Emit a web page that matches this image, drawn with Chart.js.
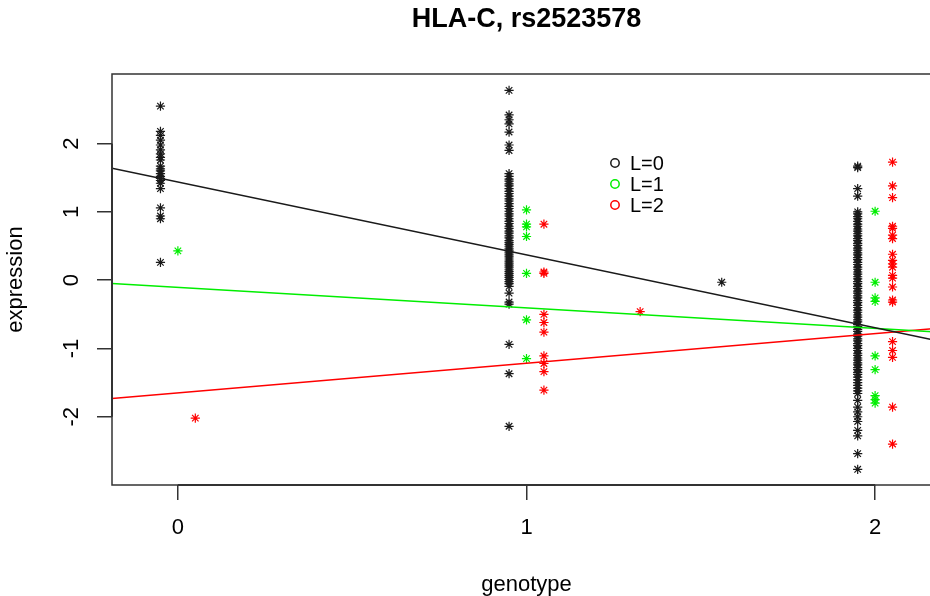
<!DOCTYPE html>
<html>
<head>
<meta charset="utf-8">
<script src="https://cdn.jsdelivr.net/npm/chart.js@4/dist/chart.umd.min.js"></script>
<style>
  html, body { margin: 0; padding: 0; background: #fff; overflow: hidden; }
  #chart { display: block; }
</style>
</head>
<body>
<canvas id="chart" width="960" height="596"></canvas>
<script>
// axis ranges and ticks
const xLimits = [-0.189, 2.189];
const yLimits = [-3.0, 3.02];
const genotypeTicks = [0, 1, 2];
const expressionTicks = [-2, -1, 0, 1, 2];

// groups
const groupLabels = ['L=0', 'L=1', 'L=2'];
const groupShift = [-0.05, 0, 0.05];   // jitter of each group around the genotype

// L=0 expression values at genotype 0, 1, 2
const l0AtG0 = [2.55, 2.18, 2.12, 2.05, 1.98, 1.91, 1.85, 1.80, 1.76, 1.67, 1.63, 1.60, 1.56, 1.52,
  1.49, 1.46, 1.42, 1.34, 1.06, 0.94, 0.90, 0.26];
const l0AtG1 = [2.78, 2.42, 2.35, 2.29, 2.17, 1.98, 1.90,
  1.56, 1.52, 1.48, 1.45, 1.41, 1.38, 1.34, 1.30, 1.27, 1.23, 1.19, 1.16, 1.12, 1.08, 1.05, 1.01,
  0.97, 0.94, 0.90, 0.86, 0.83, 0.79, 0.76, 0.72, 0.69, 0.65, 0.62, 0.58, 0.55, 0.52, 0.49, 0.46,
  0.43, 0.40, 0.37, 0.34, 0.31, 0.28, 0.25, 0.22, 0.19, 0.16, 0.13, 0.10, 0.07, 0.04, 0.01, -0.02,
  -0.05, -0.09, -0.19, -0.32, -0.35, -0.94, -1.37, -2.14];
const l0AtG2 = [1.67, 1.65, 1.34, 1.23,
  1.00, 0.97, 0.93, 0.90, 0.86, 0.82, 0.79, 0.75, 0.72, 0.68, 0.65, 0.61, 0.58, 0.54, 0.51, 0.47,
  0.44, 0.40, 0.37, 0.33, 0.30, 0.26, 0.23, 0.19, 0.16, 0.12, 0.09, 0.05, 0.02, -0.02, -0.05, -0.09,
  -0.12, -0.16, -0.19, -0.23, -0.26, -0.30, -0.33, -0.37, -0.40, -0.44, -0.47, -0.51, -0.54, -0.58,
  -0.61, -0.65, -0.68, -0.72, -0.75, -0.79, -0.82, -0.86, -0.89, -0.93, -0.96, -1.00, -1.03, -1.07,
  -1.10, -1.14, -1.17, -1.21, -1.24, -1.28, -1.31, -1.35, -1.38, -1.42, -1.46, -1.50, -1.54, -1.58,
  -1.62, -1.66,
  -1.76, -1.86, -1.93, -2.00, -2.07, -2.20, -2.28, -2.54, -2.77];
const l0Extra = [{ x: 1.56, y: -0.03 }];

// L=1
const l1AtG0 = [0.43];
const l1AtG1 = [1.03, 0.82, 0.78, 0.64, 0.10, -0.58, -1.15];
const l1AtG2 = [1.01, -0.03, -0.26, -0.31, -1.11, -1.31, -1.69, -1.75, -1.80];
const l1Extra = [];

// L=2
const l2AtG0 = [-2.02];
const l2AtG1 = [0.82, 0.12, 0.10, -0.50, -0.62, -0.76, -1.11, -1.22, -1.34, -1.61];
const l2AtG2 = [1.73, 1.38, 1.21, 0.79, 0.76, 0.66, 0.61, 0.38, 0.29, 0.24, 0.19, 0.07, 0.03,
  -0.10, -0.29, -0.32, -0.90, -1.03, -1.13, -1.86, -2.40];
const l2Extra = [{ x: 1.326, y: -0.46 }];

// fitted lines (abline): intercept, slope
const fitIntercepts = [1.438, -0.105, -1.650];
const fitSlopes = [-1.067, -0.30, 0.434];

const groupColors = ['#1a1a1a', '#00ee00', '#ff0000'];
const FONT = '"Liberation Sans", Arial, Helvetica, sans-serif';

const groupValues = [
  [l0AtG0, l0AtG1, l0AtG2, l0Extra],
  [l1AtG0, l1AtG1, l1AtG2, l1Extra],
  [l2AtG0, l2AtG1, l2AtG2, l2Extra]
];

const datasets = [];

groupLabels.forEach((label, i) => {
  const [g0, g1, g2, extra] = groupValues[i];
  const pts = [];
  [g0, g1, g2].forEach((vals, g) => {
    vals.forEach(v => pts.push({ x: genotypeTicks[g] + groupShift[i], y: v }));
  });
  extra.forEach(p => pts.push(p));
  datasets.push({
    type: 'scatter',
    label: label,
    data: pts,
    pointStyle: 'star',
    pointRadius: 4.6,
    pointBorderWidth: 1.2,
    borderColor: groupColors[i],
    backgroundColor: groupColors[i],
    order: 1
  });
});

groupLabels.forEach((label, i) => {
  datasets.push({
    type: 'line',
    label: label + ' fit',
    data: xLimits.map(x => ({ x: x, y: fitIntercepts[i] + fitSlopes[i] * x })),
    borderColor: groupColors[i],
    borderWidth: 1.5,
    pointRadius: 0,
    fill: false,
    order: 0
  });
});

// box, axis lines and the R style legend
const framePlugin = {
  id: 'rFrame',
  afterDatasetsDraw(chart) {
    const { ctx, chartArea: a, scales } = chart;
    ctx.save();
    ctx.strokeStyle = '#333';
    ctx.lineWidth = 1.5;
    ctx.strokeRect(a.left, a.top, a.right - a.left, a.bottom - a.top);

    // axis() lines between first and last tick
    ctx.lineWidth = 2;
    ctx.beginPath();
    ctx.moveTo(scales.x.getPixelForValue(genotypeTicks[0]), a.bottom);
    ctx.lineTo(scales.x.getPixelForValue(genotypeTicks[genotypeTicks.length - 1]), a.bottom);
    ctx.moveTo(a.left, scales.y.getPixelForValue(expressionTicks[0]));
    ctx.lineTo(a.left, scales.y.getPixelForValue(expressionTicks[expressionTicks.length - 1]));
    ctx.stroke();

    // legend
    ctx.font = '20px ' + FONT;
    ctx.textAlign = 'left';
    ctx.textBaseline = 'middle';
    groupLabels.forEach((label, i) => {
      const cy = 163 + i * 21;
      ctx.beginPath();
      ctx.arc(615, cy, 4.2, 0, Math.PI * 2);
      ctx.strokeStyle = groupColors[i];
      ctx.lineWidth = 1.5;
      ctx.stroke();
      ctx.fillStyle = '#000';
      ctx.fillText(label, 630, cy + 1);
    });
    ctx.restore();
  }
};

const tickGrid = {
  drawOnChartArea: false,
  drawTicks: true,
  tickLength: 15,
  color: '#333',
  lineWidth: 1.5
};

const config = {
  type: 'scatter',
  data: { datasets: datasets },
  plugins: [framePlugin],
  options: {
    responsive: false,
    animation: false,
    layout: { padding: { left: 0, top: 0, right: 19, bottom: 0 } },
    plugins: {
      legend: { display: false },
      tooltip: { enabled: false },
      title: {
        display: true,
        text: 'HLA-C, rs2523578',
        fullSize: false,
        color: '#000',
        font: { family: FONT, size: 27, weight: 'bold', lineHeight: 1.2 },
        padding: { top: 3, bottom: 38.6 }
      }
    },
    scales: {
      x: {
        type: 'linear',
        min: xLimits[0],
        max: xLimits[1],
        afterBuildTicks: s => { s.ticks = genotypeTicks.map(v => ({ value: v })); },
        afterFit: s => { s.height = 111; },
        grid: tickGrid,
        border: { display: false },
        ticks: {
          color: '#000',
          font: { family: FONT, size: 22 },
          padding: 15,
          maxRotation: 0,
          autoSkip: false,
          callback: v => String(v)
        },
        title: {
          display: true,
          text: 'genotype',
          color: '#000',
          font: { family: FONT, size: 22, lineHeight: 1 },
          padding: { top: 0, bottom: 0 }
        }
      },
      y: {
        type: 'linear',
        min: yLimits[0],
        max: yLimits[1],
        afterBuildTicks: s => { s.ticks = expressionTicks.map(v => ({ value: v })); },
        afterFit: s => { s.width = 112; },
        grid: tickGrid,
        border: { display: false },
        ticks: {
          color: '#000',
          font: { family: FONT, size: 22 },
          padding: 15,
          minRotation: 90,
          maxRotation: 90,
          crossAlign: 'center',
          autoSkip: false,
          callback: v => String(v)
        },
        title: {
          display: true,
          text: 'expression',
          color: '#000',
          font: { family: FONT, size: 22, lineHeight: 1 },
          padding: { top: 5, bottom: 0 }
        }
      }
    }
  }
};

const chart = new Chart(document.getElementById('chart'), config);
</script>
</body>
</html>
